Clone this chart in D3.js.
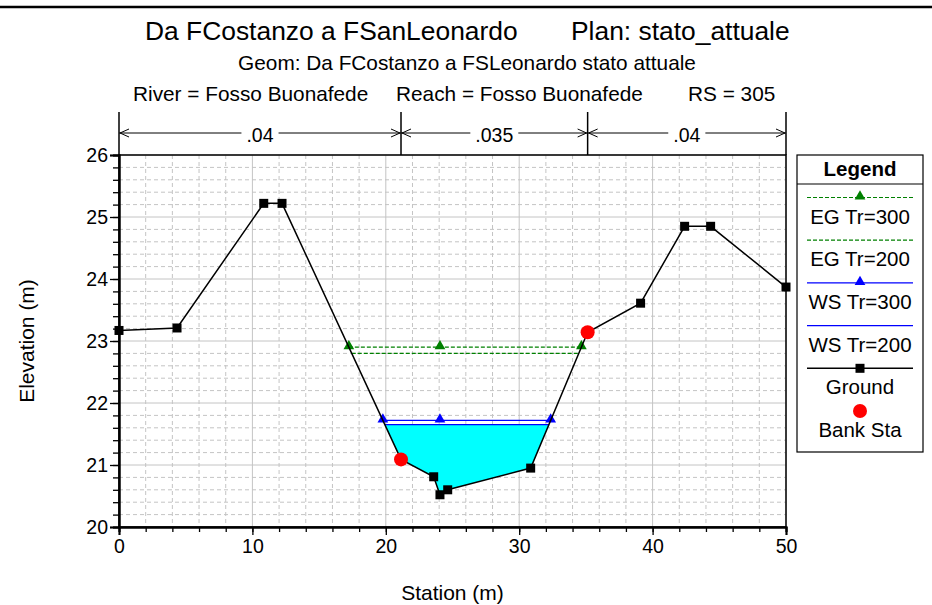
<!DOCTYPE html>
<html><head><meta charset="utf-8">
<script src="https://cdn.jsdelivr.net/npm/d3@7"></script>
<style>
body{margin:0;background:#fff;}
svg text{font-family:"Liberation Sans",Arial,Helvetica,sans-serif;fill:#000;}
</style></head><body>
<svg id="c" width="932" height="605"></svg>
<script>
// ---------- data ----------
const groundStation = [0, 4.35, 10.85, 12.22, 21.14, 23.59, 24.06, 24.64, 30.86, 35.13, 39.1, 42.4, 44.35, 50];
const groundElev    = [23.17, 23.21, 25.22, 25.22, 21.09, 20.81, 20.52, 20.60, 20.95, 23.14, 23.61, 24.85, 24.85, 23.87];
const bankStations  = [21.14, 35.13];
const nValues       = [".04", ".035", ".04"];
const profileNames  = ["EG Tr=300", "EG Tr=200", "WS Tr=300", "WS Tr=200"];
const profileElev   = [22.90, 22.80, 21.72, 21.65];
const profileColor  = ["#008000", "#008000", "#0000ff", "#0000ff"];
const profileDash   = ["4,2", "4,2", null, null];
const profileMarker = [true, false, true, false];
const xTicks = [0, 10, 20, 30, 40, 50];
const yTicks = [20, 21, 22, 23, 24, 25, 26];
const titleLeft = "Da FCostanzo a FSanLeonardo";
const titleRight = "Plan: stato_attuale";
const subtitle = "Geom: Da FCostanzo a FSLeonardo stato attuale";
const infoParts = ["River = Fosso Buonafede", "Reach = Fosso Buonafede", "RS = 305"];

// ---------- layout ----------
const svg = d3.select("#c");
const L = 119, R = 786, T = 155, B = 527;
const x = d3.scaleLinear().domain([0, 50]).range([L, R]);
const y = d3.scaleLinear().domain([20, 26]).range([B, T]);
const ground = groundStation.map((s, i) => ({s, e: groundElev[i]}));

// top rule
svg.append("line").attr("x1", 0).attr("x2", 932).attr("y1", 7).attr("y2", 7)
  .attr("stroke", "#000").attr("stroke-width", 2.5);

// titles
svg.append("text").attr("x", 145).attr("y", 40).attr("font-size", 26.4).text(titleLeft);
svg.append("text").attr("x", 571).attr("y", 40).attr("font-size", 26.4).text(titleRight);
svg.append("text").attr("x", 467).attr("y", 70).attr("text-anchor", "middle").attr("font-size", 20.8).text(subtitle);
const infoX = [133, 396, 688];
infoParts.forEach((t, i) => svg.append("text").attr("x", infoX[i]).attr("y", 101).attr("font-size", 20.8).text(t));

// grid
const g = svg.append("g");
const xMinor = d3.range(0, 50.001, 2);
const yMinor = d3.range(20, 26.001, 0.2);
g.selectAll(".vx").data(xMinor).join("line")
  .attr("x1", d => x(d)).attr("x2", d => x(d)).attr("y1", T).attr("y2", B)
  .attr("stroke", "#c4c4c4").attr("stroke-width", 1)
  .attr("stroke-dasharray", d => Math.abs(d % 10) < 1e-6 ? null : "4,3");
g.selectAll(".hy").data(yMinor).join("line")
  .attr("x1", L).attr("x2", R).attr("y1", d => y(d)).attr("y2", d => y(d))
  .attr("stroke", "#c4c4c4").attr("stroke-width", 1)
  .attr("stroke-dasharray", d => Math.abs(Math.round(d) - d) < 1e-6 ? null : "4,3");

// helper: intersections of a horizontal level with ground
function crossings(level) {
  const out = [];
  for (let i = 0; i < ground.length - 1; i++) {
    const a = ground[i], b = ground[i + 1];
    if ((a.e - level) * (b.e - level) < 0) {
      out.push(a.s + (level - a.e) / (b.e - a.e) * (b.s - a.s));
    }
  }
  return out;
}
const thalweg = ground.reduce((m, p) => p.e < m.e ? p : m, ground[0]);
function extentAt(level) {
  const c = crossings(level);
  const left = d3.max(c.filter(v => v < thalweg.s));
  const right = d3.min(c.filter(v => v > thalweg.s));
  return [left, right];
}

// water fill below the lowest WS
const wsFill = profileElev[3];
const [fl, fr] = extentAt(wsFill);
const poly = [[fl, wsFill]];
ground.filter(p => p.s > fl && p.s < fr).forEach(p => poly.push([p.s, p.e]));
poly.push([fr, wsFill]);
svg.append("path").attr("d", d3.line().x(d => x(d[0])).y(d => y(d[1]))(poly) + "Z")
  .attr("fill", "#00ffff").attr("stroke", "none");

// profile lines
const tri = d3.symbol().type(d3.symbolTriangle).size(50);
profileElev.forEach((lev, i) => {
  const [a, b] = extentAt(lev);
  svg.append("line").attr("x1", x(a)).attr("x2", x(b)).attr("y1", y(lev)).attr("y2", y(lev))
    .attr("stroke", profileColor[i]).attr("stroke-width", 1.2)
    .attr("stroke-dasharray", profileDash[i]);
  if (profileMarker[i]) {
    [a, thalweg.s, b].forEach(s => {
      svg.append("path").attr("d", tri).attr("transform", `translate(${x(s)},${y(lev) - 1})`)
        .attr("fill", profileColor[i]);
    });
  }
});

// ground
svg.append("path").attr("d", d3.line().x(d => x(d.s)).y(d => y(d.e))(ground))
  .attr("fill", "none").attr("stroke", "#000").attr("stroke-width", 1.5);
svg.selectAll(".gp").data(ground).join("rect")
  .attr("x", d => x(d.s) - 4.5).attr("y", d => y(d.e) - 4.5).attr("width", 9).attr("height", 9)
  .attr("fill", "#000");
// bank stations
svg.selectAll(".bk").data(bankStations).join("circle")
  .attr("cx", d => x(d)).attr("cy", d => y(ground.find(p => p.s === d).e)).attr("r", 7)
  .attr("fill", "#ff0000");

// frame
svg.append("rect").attr("x", L).attr("y", T).attr("width", R - L).attr("height", B - T)
  .attr("fill", "none").attr("stroke", "#000").attr("stroke-width", 1.5);

// axes
const yAxis = svg.append("g").attr("transform", `translate(${L},0)`)
  .call(d3.axisLeft(y).tickValues(yTicks).tickSize(9).tickPadding(2).tickFormat(d3.format("d")));
const yMinorAxis = svg.append("g").attr("transform", `translate(${L},0)`)
  .call(d3.axisLeft(y).tickValues(yMinor).tickSize(6).tickFormat(""));
const xAxis = svg.append("g").attr("transform", `translate(0,${B})`)
  .call(d3.axisBottom(x).tickValues(xTicks).tickSize(8).tickPadding(4).tickFormat(d3.format("d")));
const xMinorAxis = svg.append("g").attr("transform", `translate(0,${B})`)
  .call(d3.axisBottom(x).tickValues(xMinor).tickSize(5).tickFormat(""));
[yAxis, yMinorAxis, xAxis, xMinorAxis].forEach(a => {
  a.select(".domain").attr("stroke-width", 2);
  a.selectAll(".tick line").attr("stroke-width", 1.3);
  a.selectAll("text").attr("font-size", 19.5).attr("font-family", '"Liberation Sans",Arial,sans-serif').attr("fill", "#000");
});

// axis titles
svg.append("text").attr("x", (L + R) / 2).attr("y", 600).attr("text-anchor", "middle")
  .attr("font-size", 21).text("Station (m)");
svg.append("text").attr("transform", `translate(34,${(T + B) / 2}) rotate(-90)`).attr("text-anchor", "middle")
  .attr("font-size", 21).text("Elevation (m)");

// Manning's n annotation
const nBounds = [0, ...bankStations, 50];
const nY = 133;
nBounds.forEach(s => svg.append("line").attr("x1", x(s)).attr("x2", x(s)).attr("y1", 112).attr("y2", T)
  .attr("stroke", "#000").attr("stroke-width", 1.5));
nValues.forEach((v, i) => {
  const a = x(nBounds[i]), b = x(nBounds[i + 1]), mid = (a + b) / 2;
  const t = svg.append("text").attr("x", mid).attr("y", nY + 8.5).attr("text-anchor", "middle")
    .attr("font-size", 19.5).text(v);
  const w = t.node().getComputedTextLength();
  svg.append("line").attr("x1", a).attr("x2", mid - w / 2 - 5).attr("y1", nY).attr("y2", nY).attr("stroke", "#000");
  svg.append("line").attr("x1", mid + w / 2 + 5).attr("x2", b).attr("y1", nY).attr("y2", nY).attr("stroke", "#000");
  svg.append("path").attr("d", `M${a + 10},${nY - 4}L${a + 1},${nY}L${a + 10},${nY + 4}`).attr("fill", "none").attr("stroke", "#000");
  svg.append("path").attr("d", `M${b - 10},${nY - 4}L${b - 1},${nY}L${b - 10},${nY + 4}`).attr("fill", "none").attr("stroke", "#000");
});

// legend
const lg = svg.append("g");
const LX = 797, LW = 126, LT = 155, LB = 452;
lg.append("rect").attr("x", LX).attr("y", LT).attr("width", LW).attr("height", LB - LT)
  .attr("fill", "#fff").attr("stroke", "#000").attr("stroke-width", 1.2);
lg.append("line").attr("x1", LX).attr("x2", LX + LW).attr("y1", 184).attr("y2", 184).attr("stroke", "#000").attr("stroke-width", 1.2);
lg.append("text").attr("x", LX + LW / 2).attr("y", 176).attr("text-anchor", "middle")
  .attr("font-size", 20.5).attr("font-weight", "bold").text("Legend");
const cx = LX + LW / 2, lx1 = 807, lx2 = 913, step = 42.7;
profileNames.forEach((n, i) => {
  const ly = 197.5 + i * step;
  lg.append("line").attr("x1", lx1).attr("x2", lx2).attr("y1", ly).attr("y2", ly)
    .attr("stroke", profileColor[i]).attr("stroke-width", 1.2).attr("stroke-dasharray", profileDash[i]);
  if (profileMarker[i]) lg.append("path").attr("d", tri).attr("transform", `translate(${cx},${ly - 1})`).attr("fill", profileColor[i]);
  lg.append("text").attr("x", cx).attr("y", ly + 26).attr("text-anchor", "middle").attr("font-size", 20.5).text(n);
});
const gy = 197.5 + 4 * step;
lg.append("line").attr("x1", lx1).attr("x2", lx2).attr("y1", gy).attr("y2", gy).attr("stroke", "#000").attr("stroke-width", 1.5);
lg.append("rect").attr("x", cx - 4.5).attr("y", gy - 4.5).attr("width", 9).attr("height", 9).attr("fill", "#000");
lg.append("text").attr("x", cx).attr("y", gy + 26).attr("text-anchor", "middle").attr("font-size", 20.5).text("Ground");
const by = gy + step;
lg.append("circle").attr("cx", cx).attr("cy", by).attr("r", 7).attr("fill", "#ff0000");
lg.append("text").attr("x", cx).attr("y", by + 26).attr("text-anchor", "middle").attr("font-size", 20.5).text("Bank Sta");
</script>
</body></html>
